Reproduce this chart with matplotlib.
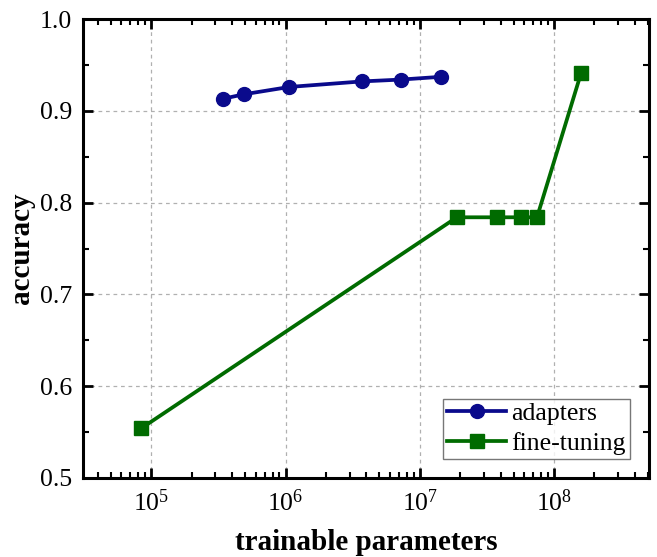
import numpy as np
import matplotlib.pyplot as plt
from matplotlib.ticker import LogLocator, MultipleLocator, NullFormatter

plt.rcParams['font.family'] = ['Liberation Serif', 'DejaVu Serif']
plt.rcParams['mathtext.fontset'] = 'stix'

# adapters
ad_params = [3.4e5, 4.9e5, 1.07e6, 3.7e6, 7.2e6, 1.43e7]
ad_acc = [0.913, 0.918, 0.926, 0.932, 0.934, 0.937]

# fine-tuning
ft_params = [8.4e4, 1.89e7, 3.76e7, 5.67e7, 7.47e7, 1.59e8]
ft_acc = [0.554, 0.784, 0.784, 0.784, 0.784, 0.941]

fig = plt.figure(figsize=(6.57, 5.57), dpi=100)
ax = fig.add_axes([83/657, 1 - 478/557, (649-83)/657, (478-19)/557])

ax.plot(ad_params, ad_acc, '-o', color='#0a0a8c', lw=2.7, ms=10, label='adapters', zorder=3)
ax.plot(ft_params, ft_acc, '-s', color='#006b00', lw=2.7, ms=9.5, label='fine-tuning', zorder=3)

ax.set_xscale('log')
ax.set_xlim(3.1e4, 5.1e8)
ax.set_ylim(0.5, 1.0)
ax.yaxis.set_major_locator(MultipleLocator(0.1))
ax.yaxis.set_minor_locator(MultipleLocator(0.05))
ax.xaxis.set_major_locator(LogLocator(base=10, numticks=10))
ax.xaxis.set_minor_locator(LogLocator(base=10, subs=np.arange(2, 10), numticks=20))
ax.xaxis.set_minor_formatter(NullFormatter())

ax.grid(True, which='major', ls=(0, (3, 3)), color='#b0b0b0', lw=0.9)
ax.tick_params(which='both', direction='in', top=True, right=True, labelsize=18.5, pad=8)
ax.tick_params(which='major', length=7, width=2)
ax.tick_params(which='minor', length=4, width=1.5)
for s in ax.spines.values():
    s.set_linewidth(2.2)

ax.set_xlabel('trainable parameters', fontsize=21, fontweight='bold', labelpad=10)
ax.set_ylabel('accuracy', fontsize=21, fontweight='bold', labelpad=3)

leg = ax.legend(loc='lower right', fontsize=18.5, frameon=True, fancybox=False,
                edgecolor='#555555', handlelength=2.3, borderpad=0.15, labelspacing=0.25,
                handletextpad=0.2, borderaxespad=0.75)
leg.get_frame().set_linewidth(1.0)

fig.savefig('out.png', dpi=100)
